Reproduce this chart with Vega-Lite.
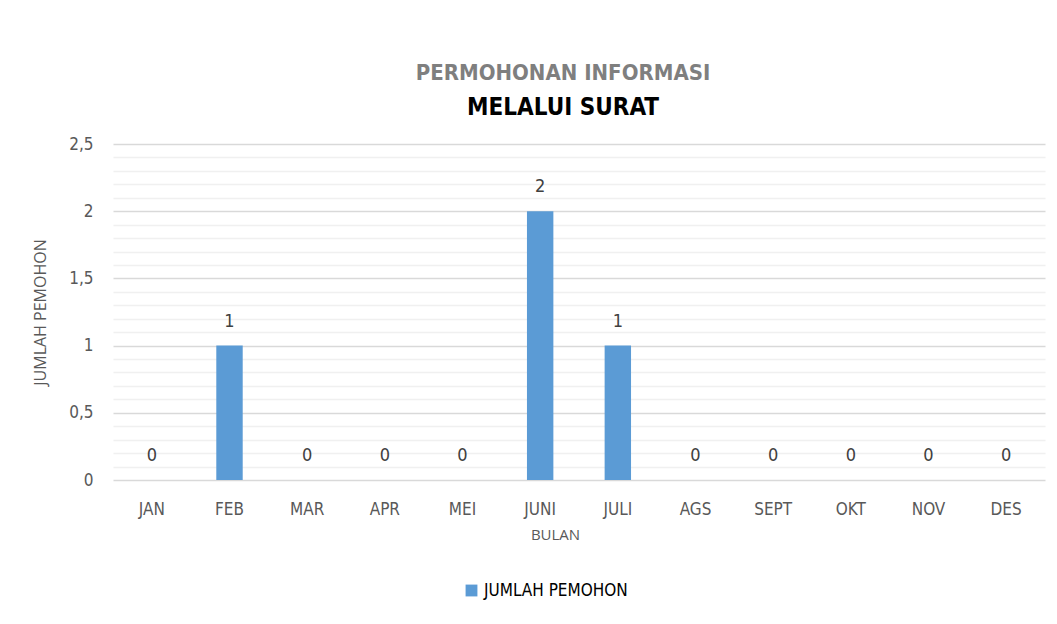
{
  "$schema": "https://vega.github.io/schema/vega-lite/v6.json",
  "width": 932,
  "height": 336,
  "autosize": {"type": "none"},
  "padding": {"left": 113, "top": 144, "right": 12, "bottom": 144},
  "background": "white",
  "title": {
    "text": "PERMOHONAN INFORMASI",
    "subtitle": "MELALUI SURAT",
    "anchor": "middle",
    "dx": -16,
    "offset": 14,
    "font": "DejaVu Sans Condensed",
    "fontSize": 22,
    "fontWeight": "bold",
    "color": "#7f7f7f",
    "subtitleFont": "DejaVu Sans Condensed",
    "subtitleFontSize": 24,
    "subtitleFontWeight": "bold",
    "subtitleColor": "#000000",
    "subtitlePadding": 11
  },
  "data": {
    "values": [
      {"bulan": "JAN", "jumlah": 0},
      {"bulan": "FEB", "jumlah": 1},
      {"bulan": "MAR", "jumlah": 0},
      {"bulan": "APR", "jumlah": 0},
      {"bulan": "MEI", "jumlah": 0},
      {"bulan": "JUNI", "jumlah": 2},
      {"bulan": "JULI", "jumlah": 1},
      {"bulan": "AGS", "jumlah": 0},
      {"bulan": "SEPT", "jumlah": 0},
      {"bulan": "OKT", "jumlah": 0},
      {"bulan": "NOV", "jumlah": 0},
      {"bulan": "DES", "jumlah": 0}
    ]
  },
  "encoding": {
    "x": {
      "field": "bulan",
      "type": "nominal",
      "sort": null,
      "scale": {"paddingInner": 0.66, "paddingOuter": 0.33},
      "axis": {
        "title": "BULAN",
        "titleFont": "Open Sans",
        "titleFontSize": 15,
        "titleFontWeight": "normal",
        "titleColor": "#595959",
        "titlePadding": 10,
        "titleX": 442,
        "labelAngle": 0,
        "labelFont": "DejaVu Sans Condensed",
        "labelFontSize": 17,
        "labelColor": "#595959",
        "labelPadding": 21,
        "ticks": false,
        "domain": false,
        "grid": false
      }
    },
    "y": {
      "field": "jumlah",
      "type": "quantitative",
      "scale": {"domain": [0, 2.5], "nice": false},
      "axis": {
        "title": "JUMLAH PEMOHON",
        "titleFont": "Open Sans",
        "titleFontSize": 16,
        "titleFontWeight": "normal",
        "titleColor": "#595959",
        "titlePadding": 20,
        "values": [0, 0.1, 0.2, 0.3, 0.4, 0.5, 0.6, 0.7, 0.8, 0.9, 1, 1.1, 1.2, 1.3, 1.4, 1.5, 1.6, 1.7, 1.8, 1.9, 2, 2.1, 2.2, 2.3, 2.4, 2.5],
        "labelExpr": "abs(datum.value*2 - round(datum.value*2)) < 0.0001 ? replace(format(datum.value, ''), '.', ',') : ''",
        "labelOverlap": false,
        "labelFont": "DejaVu Sans Condensed",
        "labelFontSize": 17,
        "labelColor": "#595959",
        "labelPadding": 20,
        "ticks": false,
        "domain": false,
        "gridColor": {
          "condition": {"test": "abs(datum.value*2 - round(datum.value*2)) < 0.0001", "value": "#d9d9d9"},
          "value": "#f0f0f0"
        },
        "gridWidth": 1.5
      }
    }
  },
  "layer": [
    {
      "mark": {"type": "bar", "color": "#5B9BD5"},
      "encoding": {
        "color": {
          "datum": "JUMLAH PEMOHON",
          "type": "nominal",
          "scale": {"range": ["#5B9BD5"]},
          "legend": {
            "title": null,
            "orient": "none",
            "legendX": 350,
            "legendY": 438,
            "symbolType": "square",
            "symbolSize": 140,
            "symbolStrokeWidth": 0,
            "labelFont": "DejaVu Sans Condensed",
            "labelFontSize": 17,
            "labelColor": "#000000",
            "labelOffset": 4
          }
        }
      }
    },
    {
      "mark": {
        "type": "text",
        "baseline": "bottom",
        "dy": -15,
        "font": "DejaVu Sans Condensed",
        "fontSize": 18,
        "color": "#404040"
      },
      "encoding": {"text": {"field": "jumlah", "type": "quantitative"}}
    }
  ],
  "config": {"view": {"stroke": null}}
}
